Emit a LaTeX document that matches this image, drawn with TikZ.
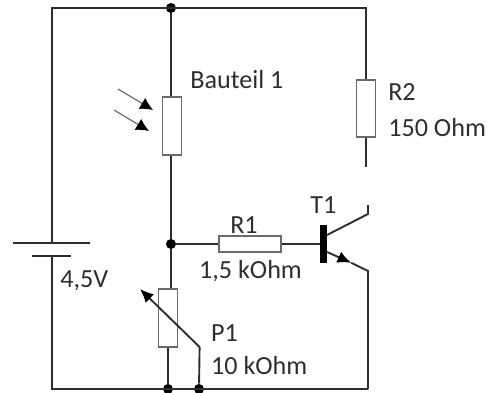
\documentclass[tikz,border=0pt]{standalone}
\usepackage{fontspec}
\setmainfont{Carlito}
\usetikzlibrary{arrows.meta}
\definecolor{wirecol}{HTML}{2E2E2E}
\definecolor{partcol}{HTML}{6A6A6A}
\tikzset{
    wire/.style={draw=wirecol, line width=1.35pt},
    dotnode/.style={circle, fill=black, inner sep=0pt, minimum size=0.25cm},
    widerstand/.style={draw=partcol, fill=white, line width=1pt, inner sep=0pt},
    lichtpfeil/.style={draw=partcol, line width=0.8pt, -{Latex[length=0.32cm,width=0.32cm,color=black]}},
    beschriftung/.style={text=wirecol, font=\fontsize{18.6}{20}\selectfont, inner sep=0pt, anchor=west}
}
\begin{document}
\begin{tikzpicture}
    \useasboundingbox (0,0) rectangle (12.4,9.8);

    % Eckpunkte und Knoten
    \coordinate (ol) at (1.3,9.6);
    \coordinate (or) at (9.15,9.6);
    \coordinate (ul) at (1.3,0.075);
    \coordinate (ur) at (9.2,0.075);
    \foreach \name/\x/\y in {jtop/4.275/9.6, jmid/4.275/3.7, jp/4.2/0.075, js/4.975/0.075} {
        \node[dotnode] (\name) at (\x,\y) {};
    }

    % Bauteile
    \node[widerstand, minimum width=0.475cm, minimum height=1.45cm] (bauteil) at (4.3,6.65) {};
    \node[widerstand, minimum width=0.475cm, minimum height=1.45cm] (pot) at (4.2,1.85) {};
    \node[widerstand, minimum width=1.55cm, minimum height=0.4cm] (rb) at (6.25,3.7) {};
    \node[widerstand, minimum width=0.475cm, minimum height=1.425cm] (rc) at (9.15,7.09) {};
    \node[fill=black, inner sep=0pt, minimum width=0.175cm, minimum height=0.95cm] (basis) at (8.09,3.7) {};

    % Batterie
    \coordinate (batplus) at (1.3,3.725);
    \coordinate (batminus) at (1.3,3.4);
    \draw[wire] (0.325,3.725) -- (2.25,3.725);
    \draw[wire] (0.8,3.4) -- (1.775,3.4);

    % Leitungen
    \draw[wire] (batplus) -- (ol) -- (or) -- (rc.north);
    \draw[wire] (batminus) -- (ul) -- (ur);
    \draw[wire] (jtop) -- (jtop |- bauteil.north);
    \draw[wire] (jtop |- bauteil.south) -- (jmid);
    \draw[wire] (jmid) -- (jmid |- pot.north);
    \draw[wire] (pot.south) -- (jp);
    \draw[wire] (jmid) -- (rb.west);
    \draw[wire] (rb.east) -- (basis.west);

    % Transistor
    \coordinate (rcende) at (9.15,5.625);
    \coordinate (kollb) at (8.175,3.925);
    \coordinate (kollk) at (9.2,4.45);
    \coordinate (kolla) at (9.2,4.675);
    \coordinate (emb) at (8.175,3.5);
    \coordinate (empf) at (8.78,3.23);
    \coordinate (eme) at (9.2,3.025);
    \draw[wire] (rc.south) -- (rcende);
    \draw[wire] (kollb) -- (kollk) -- (kolla);
    \draw[wire] (empf) -- (eme) -- (ur);
    \draw[wire, -{Latex[length=0.34cm,width=0.3cm,color=black]}] (emb) -- (empf);

    % Pfeile
    \coordinate (l1a) at (2.95,7.575);
    \coordinate (l1b) at (3.825,7.05);
    \coordinate (l2a) at (2.85,7.05);
    \coordinate (l2b) at (3.725,6.525);
    \draw[lichtpfeil] (l1a) -- (l1b);
    \draw[lichtpfeil] (l2a) -- (l2b);
    \coordinate (knick) at (4.99,1.125);
    \coordinate (spitze) at (3.5,2.575);
    \draw[wire] (js) -- (knick);
    \draw[wire, -{Latex[length=0.34cm,width=0.3cm,color=black]}] (knick) -- (spitze);

    % Beschriftung
    \foreach \name/\x/\y/\val in {lbau/4.75/7.8/Bauteil 1, lrc/9.7/7.5/R2, lrcw/9.7/6.62/150 Ohm,
        lrb/5.75/4.18/R1, lrbw/4.97/3.02/{1,5 kOhm}, ltr/7.75/4.68/T1,
        lbat/1.5/2.78/{4,5V}, lp/5.27/1.48/P1, lpw/5.27/0.66/10 kOhm} {
        \node[beschriftung] (\name) at (\x,\y) {\val};
    }
\end{tikzpicture}
\end{document}
